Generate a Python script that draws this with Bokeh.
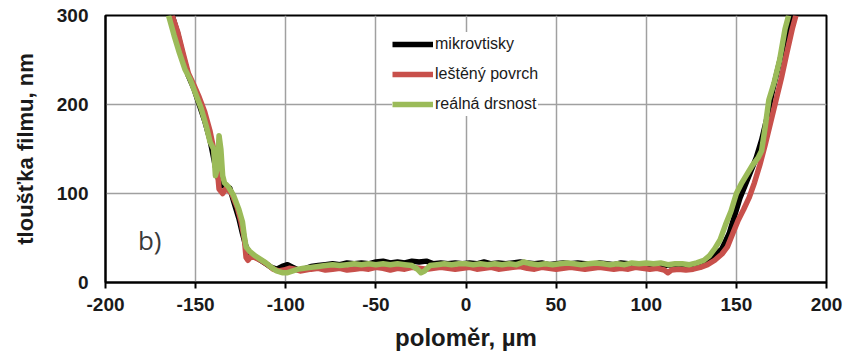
from bokeh.plotting import figure
from bokeh.models import Legend, LegendItem, Label, FixedTicker
from bokeh.embed import file_html
from bokeh.resources import INLINE

# --- data ---
black_x = [-163,-160,-157,-154,-151,-148,-145,-142,-140,-138,-136,-134,-131,-129,-126,-124,-122,-120,-117,-114,-111,-108,-105,-102,-99,-96,-93,-90,-86,-82,-78,-74,-70,-66,-62,-58,-54,-50,-46,-42,-38,-34,-30,-26,-22,-18,-14,-10,-6,-2,2,6,10,14,18,22,26,30,34,38,42,46,50,54,58,62,66,70,74,78,82,86,90,94,98,102,106,110,114,118,122,126,130,134,138,142,146,149,152,155,158,161,164,167,170,173,176,179,181]
black_y = [300,280,255,232,218,200,182,160,140,120,110,108,106,92,72,55,40,33,29,25,21,17,15,18,20,17,14,15,18,19,20,21,20,22,21,22,21,23,24,22,23,22,24,23,24,21,22,21,22,21,22,21,23,21,22,21,22,23,22,21,22,20,21,22,21,22,21,20,22,21,20,22,21,20,21,20,21,19,20,19,20,19,21,25,30,38,55,75,95,110,125,140,160,185,215,240,265,290,300]

red_x = [-163,-160,-157,-154,-151,-148,-145,-142,-140,-138,-137,-135,-133,-130,-127,-125,-123,-122,-121,-119,-116,-113,-110,-107,-104,-101,-98,-95,-92,-89,-86,-82,-78,-74,-70,-66,-62,-58,-54,-50,-46,-42,-38,-34,-30,-26,-22,-18,-14,-10,-6,-2,2,6,10,14,18,22,26,30,34,38,42,46,50,54,58,62,66,70,74,78,82,86,90,94,98,102,106,110,112,114,118,122,126,130,134,138,142,145,148,151,154,157,160,163,166,169,172,175,178,181,183]
red_y = [300,282,258,235,222,208,192,170,150,128,105,100,106,100,85,70,50,28,25,30,27,24,20,15,13,14,16,15,13,14,15,16,14,15,16,14,15,16,15,17,16,14,16,15,17,16,15,16,17,16,15,16,17,15,16,17,15,16,17,18,16,15,17,16,15,16,17,16,15,16,17,16,15,16,15,17,16,15,16,14,11,14,15,14,15,17,20,25,32,40,55,70,82,95,112,132,155,180,205,230,258,285,300]

green_x = [-165,-162,-159,-156,-153,-150,-147,-144,-142,-140,-139,-138,-137,-136,-135,-134,-132,-129,-126,-124,-123,-122,-120,-117,-114,-111,-108,-105,-102,-99,-96,-93,-90,-86,-82,-78,-74,-70,-66,-62,-58,-54,-50,-46,-42,-38,-34,-30,-27,-25,-23,-20,-16,-12,-8,-4,0,4,8,12,16,20,24,28,32,36,40,44,48,52,56,60,64,68,72,76,80,84,88,92,96,100,104,108,112,116,120,124,128,132,135,138,141,144,147,150,153,156,159,162,164,166,168,171,174,177,179]
green_y = [300,278,258,240,228,212,196,175,158,150,120,128,165,150,120,112,108,98,82,68,52,40,35,30,26,22,17,13,11,11,13,15,16,17,18,19,20,19,20,21,20,21,20,21,20,21,20,19,15,11,13,19,20,21,20,21,21,20,21,20,21,20,21,20,23,21,20,21,20,21,22,21,20,21,22,21,20,21,20,22,21,22,21,22,20,21,21,20,22,25,30,38,48,65,80,100,112,122,132,140,148,175,205,225,250,285,300]

series_names = ["mikrovtisky", "leštěný povrch", "reálná drsnost"]
series_colors = ["#000000", "#c8504b", "#9bbb59"]
x_ticks = [-200, -150, -100, -50, 0, 50, 100, 150, 200]
y_ticks = [0, 100, 200, 300]

p = figure(width=853, height=355, output_backend="svg", toolbar_location=None,
           x_range=(-200, 200), y_range=(0, 300),
           min_border_left=105, min_border_right=27, min_border_top=15, min_border_bottom=73)

p.outline_line_color = "black"
p.outline_line_width = 2
p.background_fill_color = "white"
p.border_fill_color = "white"

r1 = p.line(black_x, black_y, line_color=series_colors[0], line_width=5.5, line_join="round")
r2 = p.line(red_x, red_y, line_color=series_colors[1], line_width=5.5, line_join="round")
r3 = p.line(green_x, green_y, line_color=series_colors[2], line_width=5.5, line_join="round")

p.xaxis.ticker = FixedTicker(ticks=x_ticks)
p.yaxis.ticker = FixedTicker(ticks=y_ticks)
p.xgrid.ticker = FixedTicker(ticks=x_ticks)
p.ygrid.ticker = FixedTicker(ticks=y_ticks)
p.grid.grid_line_color = "#a0a0a0"
p.grid.grid_line_width = 1.5

for ax in (p.xaxis[0], p.yaxis[0]):
    ax.axis_line_color = "black"
    ax.axis_line_width = 2
    ax.minor_tick_line_color = None
    ax.major_label_text_font = "Liberation Sans"
    ax.major_label_text_font_style = "bold"
    ax.major_label_text_font_size = "19px"
    ax.major_label_text_color = "#1a1a1a"
    ax.axis_label_text_font = "Liberation Sans"
    ax.axis_label_text_font_style = "bold"
    ax.axis_label_text_color = "#1a1a1a"

p.xaxis.major_label_overrides = {t: str(t) for t in x_ticks}
p.yaxis.major_label_overrides = {t: str(t) for t in y_ticks}

p.xaxis.major_tick_line_color = "black"
p.xaxis.major_tick_line_width = 2
p.xaxis.major_tick_out = 6
p.xaxis.major_tick_in = 0
p.xaxis.major_label_standoff = 9
p.xaxis.axis_label = "poloměr, µm"
p.xaxis.axis_label_text_font_size = "24px"
p.xaxis.axis_label_standoff = 10

p.yaxis.major_tick_line_color = None
p.yaxis.major_tick_out = 0
p.yaxis.major_tick_in = 0
p.yaxis.major_label_standoff = 17
p.yaxis.axis_label = "tloušťka filmu, nm"
p.yaxis.axis_label_text_font_size = "22px"
p.yaxis.axis_label_standoff = 16

legend = Legend(items=[LegendItem(label=series_names[0], renderers=[r1]),
                       LegendItem(label=series_names[1], renderers=[r2]),
                       LegendItem(label=series_names[2], renderers=[r3])],
                location=(287, 166))
legend.border_line_color = None
legend.background_fill_color = "white"
legend.background_fill_alpha = 1
legend.padding = 5
legend.margin = 0
legend.spacing = 6
legend.glyph_width = 41
legend.glyph_height = 24
legend.label_height = 24
legend.label_standoff = 2
legend.label_text_font = "Liberation Sans"
legend.label_text_font_size = "16px"
legend.label_text_color = "#1a1a1a"
p.add_layout(legend)

p.add_layout(Label(x=-182, y=28, text="b)", text_font="Open Sans", text_font_size="26px",
                   text_color="#3a3a3a", text_baseline="bottom"))

open("out.html", "w").write(file_html(p, INLINE))
